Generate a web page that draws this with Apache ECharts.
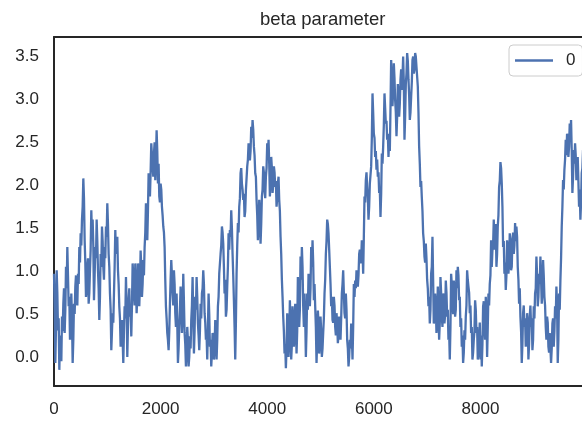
<!DOCTYPE html>
<html>
<head>
<meta charset="utf-8">
<script src="https://cdn.jsdelivr.net/npm/echarts@6/dist/echarts.min.js"></script>
<style>
html,body{margin:0;padding:0;background:#fff;}
#chart{width:582px;height:421px;}
</style>
</head>
<body>
<div id="chart"></div>
<script>
// sample spacing of the main readings (index units)
const step = 25;
const titleText = 'beta parameter';
const seriesName = '0';
const xTickStep = 2000;
// beta parameter values, at index k*step
const beta = [
0.97,-0.07,1.01,0.31,-0.15,0.08,0.47,0.62,0.28,1.05,
1.28,0.59,0.20,0.74,-0.07,0.62,0.82,0.66,0.97,1.28,
1.44,1.60,2.08,1.36,0.70,1.05,0.62,1.01,1.71,1.60,
0.66,1.28,1.60,1.01,0.43,1.20,1.52,1.05,1.28,1.52,
1.79,1.20,0.74,0.08,0.51,0.74,1.48,1.32,1.01,0.59,
0.12,0.43,-0.07,0.59,0.93,0.00,0.66,0.47,0.24,1.09,
0.74,1.09,0.51,1.09,
0.59,1.24,0.70,1.13,1.28,1.79,1.36,2.14,1.87,2.49,
2.22,2.37,2.06,2.64,2.02,1.87,2.02,1.75,1.52,1.28,
0.59,0.28,0.08,0.62,1.13,0.74,1.01,0.51,0.74,-0.07,
0.35,0.82,0.28,0.97,0.28,-0.11,0.35,-0.11,0.24,0.43,
0.93,0.04,0.70,0.93,0.39,0.08,0.62,0.74,1.01,0.51,
0.20,-0.03,0.74,0.12,-0.11,0.28,-0.03,0.43,-0.03,0.59,
0.97,1.20,1.52,1.32,
0.74,0.47,0.82,1.44,1.48,1.71,1.20,0.66,-0.03,0.97,
1.56,1.75,2.14,2.02,1.83,1.63,1.94,2.22,2.49,2.29,
2.68,2.76,2.45,2.14,1.83,1.36,1.83,1.32,1.87,2.22,
1.94,2.10,2.49,2.53,1.87,2.33,1.91,2.22,1.98,1.75,
2.02,1.83,1.40,0.90,0.47,0.04,-0.13,0.51,0.00,0.66,
-0.03,0.59,0.12,0.62,0.04,0.93,0.35,1.17,1.28,0.59,
0.74,0.00,0.74,0.97,0.59,1.28,1.36,0.66,0.59,-0.07,
0.54,0.04,0.47,0.00,0.28,0.74,1.20,1.60,1.44,1.05,
0.59,0.43,0.70,0.35,0.51,0.16,0.47,0.20,0.74,1.01,
0.51,0.74,0.20,-0.11,0.20,0.39,-0.03,0.85,0.89,1.01,
0.82,1.20,1.09,1.36,0.97,1.87,2.06,1.98,1.60,2.02,
2.22,3.07,2.60,2.33,2.18,2.10,1.91,1.63,2.37,2.45,
3.07,2.72,2.53,2.33,
2.40,3.46,2.92,3.42,2.99,2.57,3.18,2.80,3.23,3.11,
3.50,2.53,3.18,3.54,3.23,2.76,3.03,3.46,3.30,3.54,
3.38,3.15,2.45,1.98,1.86,1.44,1.17,1.32,0.90,0.59,
0.39,0.97,1.40,0.39,0.74,0.28,0.82,0.20,0.93,0.47,
0.74,0.39,0.89,0.47,0.20,-0.03,0.97,0.62,0.89,0.47,
1.01,1.05,0.66,0.35,0.12,-0.07,0.31,0.47,1.01,0.82,
0.51,0.28,-0.03,0.20,0.66,0.28,-0.03,
0.20,-0.03,-0.11,0.59,0.35,0.70,0.00,0.74,0.85,1.36,
1.24,1.60,1.44,1.05,1.52,1.98,2.27,2.02,1.28,0.97,
0.78,1.36,0.97,1.44,1.01,1.36,1.20,1.56,1.52,1.05,
0.62,0.47,-0.07,0.51,0.35,0.12,0.51,-0.03,0.47,0.35,
0.08,0.59,0.74,1.17,0.59,0.97,1.17,0.62,1.13,0.70,
0.35,0.47,0.12,0.28,-0.07,0.39,0.12,0.59,0.82,-0.07,
0.74,0.89,1.52,2.06,2.18,2.53,2.60,2.33,2.72,2.76,
1.91,2.41,2.49,2.06,2.33,1.75,1.60,2.14,2.41,1.98,
2.06
];
// half-step readings, at index k*step + step/2
const betaHalf = [
0.55,0.35,0.75,0.45,0.25,-0.05,0.30,0.80,0.55,0.80,
0.95,0.70,0.35,0.45,0.20,0.50,0.95,0.60,0.85,1.10,
1.30,1.75,1.85,1.10,0.80,1.15,0.75,1.25,1.40,1.30,
0.95,1.15,1.35,0.80,0.70,1.05,1.35,0.90,1.15,1.40,
1.55,1.05,0.55,0.30,0.40,1.05,1.20,1.40,0.85,0.45,
0.25,0.20,0.30,0.45,0.60,0.35,0.80,0.55,0.60,0.95,
0.60,0.85,0.70,0.95,
0.85,1.05,0.85,0.95,1.45,1.60,1.70,2.05,2.15,2.35,
2.10,2.50,2.30,2.40,2.25,1.80,1.95,1.65,1.45,0.90,
0.45,0.20,0.30,0.90,0.95,0.60,0.85,0.35,0.40,0.10,
0.55,0.60,0.50,0.65,0.15,0.05,0.20,0.00,0.10,0.60,
0.45,0.30,0.55,0.70,0.25,0.30,0.45,0.80,0.85,0.40,
0.25,0.35,0.50,0.20,0.05,0.15,0.10,0.25,0.20,0.70,
0.95,1.30,1.45,1.05,
0.90,0.55,1.05,1.25,1.40,1.50,0.95,0.35,0.40,1.30,
1.45,1.85,2.20,1.95,1.90,1.70,1.95,2.30,2.45,2.40,
2.55,2.65,2.35,2.10,1.65,1.50,1.70,1.55,1.95,2.15,
1.85,2.20,2.35,2.25,2.05,2.20,2.00,2.15,2.05,1.85,
2.10,1.70,1.20,0.70,0.30,0.15,0.10,0.35,0.20,0.40,
0.15,0.45,0.25,0.40,0.30,0.70,0.55,0.90,1.05,0.35,
0.45,0.30,0.55,0.85,0.80,1.05,1.10,0.85,0.35,0.20,
0.40,0.15,0.30,0.10,0.45,0.90,1.35,1.55,1.25,0.85,
0.70,0.40,0.60,0.25,0.40,0.25,0.40,0.45,0.85,0.75,
0.45,0.55,0.10,0.00,0.10,0.25,0.35,0.70,0.80,0.95,
0.95,1.25,1.15,1.25,1.40,1.80,2.15,1.85,1.75,2.00,
2.55,2.85,2.55,2.40,2.30,2.15,1.95,1.90,2.25,2.70,
2.90,2.75,2.60,2.55,
2.90,3.25,3.10,3.25,2.85,2.80,3.05,2.95,3.35,3.25,
3.20,2.80,3.30,3.45,3.05,2.85,3.20,3.50,3.35,3.50,
3.40,2.85,2.25,2.05,1.70,1.35,1.10,1.15,0.80,0.70,
0.55,1.05,0.90,0.45,0.60,0.40,0.55,0.40,0.75,0.35,
0.65,0.50,0.75,0.55,0.30,0.35,0.85,0.50,0.80,0.55,
0.80,0.95,0.70,0.45,0.25,0.05,0.20,0.60,0.90,0.75,
0.60,0.35,0.05,0.30,0.55,0.35,0.05,
0.40,0.25,0.15,0.65,0.20,0.55,0.35,0.60,0.95,1.05,
1.30,1.25,1.55,1.20,1.65,2.05,2.20,1.75,1.35,1.10,
0.95,1.25,1.10,1.35,1.05,1.45,1.30,1.35,1.40,0.90,
0.80,0.30,0.15,0.60,0.45,0.20,0.40,0.15,0.60,0.45,
0.20,0.45,0.80,0.95,0.70,0.85,0.90,0.75,0.95,0.60,
0.20,0.40,0.05,0.30,0.10,0.45,0.30,0.45,0.60,0.20,
0.55,1.15,1.75,1.95,2.30,2.35,2.55,2.45,2.55,2.40,
2.10,2.25,2.35,2.15,2.05,1.95,1.80,2.20,2.30,2.20
];
const xMin = 0, xMax = 9999;
const yMin = -0.338, yMax = 3.727;

const data = [];
beta.forEach((v, i) => {
  data.push([i * step, v]);
  if (i < betaHalf.length) data.push([i * step + step / 2, betaHalf[i]]);
});
const ink = '#262626';
const font = 'Liberation Sans, Arial, sans-serif';
const spine = {show: true, onZero: false, lineStyle: {color: ink, width: 2}};

const chart = echarts.init(document.getElementById('chart'), null, {renderer: 'canvas'});
chart.setOption({
  backgroundColor: '#ffffff',
  animation: false,
  title: {
    text: titleText,
    left: 260, top: 10, padding: 0,
    textStyle: {fontFamily: font, fontSize: 18.5, fontWeight: 'normal', color: ink}
  },
  legend: {
    data: [seriesName],
    left: 509, top: 45,
    padding: [7, 7, 7, 6],
    itemWidth: 38, itemHeight: 2.5,
    icon: 'rect',
    backgroundColor: 'rgba(255,255,255,0.8)',
    borderColor: '#cccccc', borderWidth: 1, borderRadius: 4,
    textStyle: {fontFamily: font, fontSize: 17, color: ink, padding: [0, 0, 0, 8]}
  },
  grid: {
    left: 54, width: 533, top: 37, bottom: 35,
    outerBoundsMode: 'none',
    show: false, containLabel: false
  },
  xAxis: [{
    type: 'value', min: xMin, max: xMax, interval: xTickStep, position: 'bottom',
    axisLine: spine, axisTick: {show: false}, splitLine: {show: false},
    axisLabel: {fontFamily: font, fontSize: 17, color: ink, margin: 15, showMaxLabel: false,
      formatter: v => String(v)}
  }, {
    type: 'value', min: xMin, max: xMax, position: 'top',
    axisLine: spine, axisTick: {show: false}, splitLine: {show: false},
    axisLabel: {show: false}
  }],
  yAxis: {
    type: 'value', min: yMin, max: yMax, splitNumber: 8,
    axisLine: spine, axisTick: {show: false}, splitLine: {show: false},
    axisLabel: {fontFamily: font, fontSize: 17, color: ink, margin: 15,
      showMinLabel: false, showMaxLabel: false,
      formatter: v => v.toFixed(1)}
  },
  series: [{
    name: seriesName, type: 'line', data: data, xAxisIndex: 0,
    symbol: 'none', showSymbol: false,
    lineStyle: {color: '#4c72b0', width: 2.3},
    itemStyle: {color: '#4c72b0'},
    clip: true
  }]
});
</script>
</body>
</html>
